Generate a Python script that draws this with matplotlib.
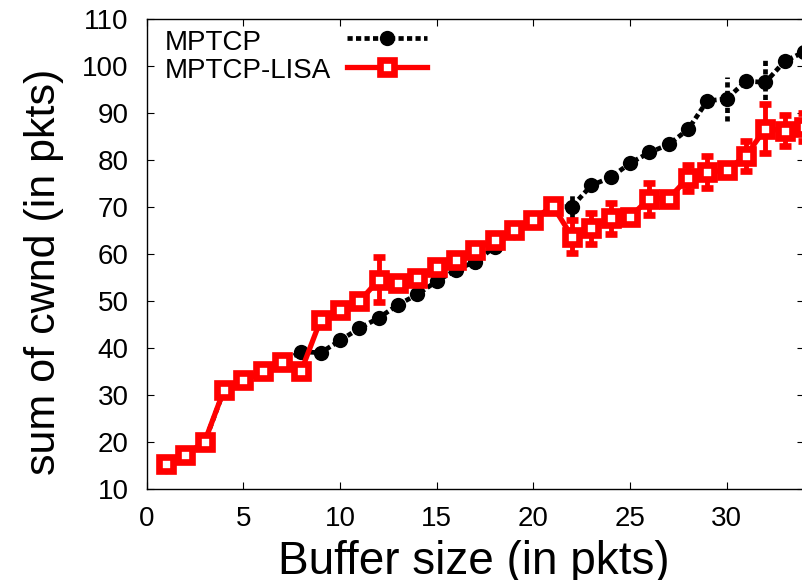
import matplotlib
matplotlib.use("Agg")
import matplotlib.pyplot as plt

plt.rcParams['font.family'] = ['Liberation Sans', 'DejaVu Sans']

buffer_size = list(range(1, 35))
mptcp = [15.0, 17.0, 20.0, 31.0, 33.0, 35.0, 37.0, 39.2, 39.0, 41.6,
         44.2, 46.4, 49.2, 51.4, 54.2, 56.6, 58.4, 61.5, 64.7, 67.2,
         70.0, 70.1, 74.6, 76.3, 79.3, 81.6, 83.3, 86.5, 92.6, 93.0,
         96.8, 96.5, 101.0, 103.0]
mptcp_err = [0.5, 0.5, 0.5, 0.6, 0.6, 0.6, 0.6, 0.8, 0.8, 0.8,
             0.8, 0.8, 0.8, 0.8, 0.8, 0.8, 1.6, 0.8, 0.8, 0.8,
             0.8, 2.5, 1.0, 0.8, 0.8, 0.8, 1.0, 0.8, 0.8, 4.6,
             0.8, 5.4, 0.8, 0.8]
lisa = [15.3, 17.2, 20.1, 31.1, 33.2, 35.1, 37.1, 35.2, 46.0, 48.1,
        49.9, 54.5, 53.9, 54.8, 57.2, 58.8, 60.9, 63.0, 65.1, 67.2,
        70.3, 63.7, 65.5, 67.6, 67.9, 71.8, 71.8, 76.2, 77.4, 77.9,
        80.9, 86.7, 86.2, 87.0]
lisa_err = [0.6, 0.6, 0.6, 0.7, 0.7, 0.7, 0.7, 0.7, 0.7, 0.7,
            0.7, 4.8, 0.8, 0.8, 0.8, 0.8, 0.8, 0.8, 0.8, 0.8,
            0.8, 3.5, 3.3, 3.3, 1.2, 3.4, 1.2, 2.8, 3.4, 1.2,
            3.2, 5.3, 3.3, 3.0]
labels = ["MPTCP", "MPTCP-LISA"]
xticks = [0, 5, 10, 15, 20, 25, 30]
yticks = [10, 20, 30, 40, 50, 60, 70, 80, 90, 100, 110]

fig = plt.figure(figsize=(8.02, 5.80), dpi=100)
ax = fig.add_axes([146.7 / 802, 91 / 580, 657.3 / 802, 470 / 580])

dash = (0, (1.1, 0.7))
eb1 = ax.errorbar(buffer_size, mptcp, yerr=mptcp_err, color='black',
                  linestyle=dash, linewidth=3.4, marker='o', markersize=11,
                  markeredgewidth=0, elinewidth=3.4, capsize=2, capthick=2.0,
                  zorder=2)
eb1[2][0].set_linestyle(dash)

eb2 = ax.errorbar(buffer_size, lisa, yerr=lisa_err, color='red',
                  linestyle='-', linewidth=3.8, marker='s', markersize=10.5,
                  markeredgewidth=4.8, markerfacecolor='white',
                  markeredgecolor='red', elinewidth=3.5, capsize=4.5,
                  capthick=3.5, zorder=3)

ax.set_xlim(0, 34)
ax.set_ylim(10, 110)
ax.set_xticks(xticks)
ax.set_yticks(yticks)
ax.tick_params(axis='both', direction='in', length=5, width=0.8,
               top=True, right=True, labelsize=20)
ax.tick_params(axis='x', pad=12.5)
ax.tick_params(axis='y', pad=13)
for s in ax.spines.values():
    s.set_linewidth(1.0)

ax.set_xlabel("Buffer size (in pkts)", fontsize=33)
ax.set_ylabel("sum of cwnd (in pkts)", fontsize=31)
ax.xaxis.set_label_coords(0.498, -0.1085)
ax.yaxis.set_label_coords(-0.1258, 0.4628)

leg = ax.legend([eb1[0], eb2[0]], ['', ''], loc='center',
                bbox_to_anchor=(0.3656, 0.9234), frameon=False,
                fontsize=20, handlelength=2.88, handletextpad=0,
                borderpad=0, labelspacing=0.1, numpoints=1)

ax.text(0.0278, 0.934, labels[0], transform=ax.transAxes, fontsize=20,
        ha='left', va='baseline')
ax.text(0.0278, 0.8738, labels[1], transform=ax.transAxes, fontsize=20,
        ha='left', va='baseline')

fig.savefig("out.png", dpi=100)
